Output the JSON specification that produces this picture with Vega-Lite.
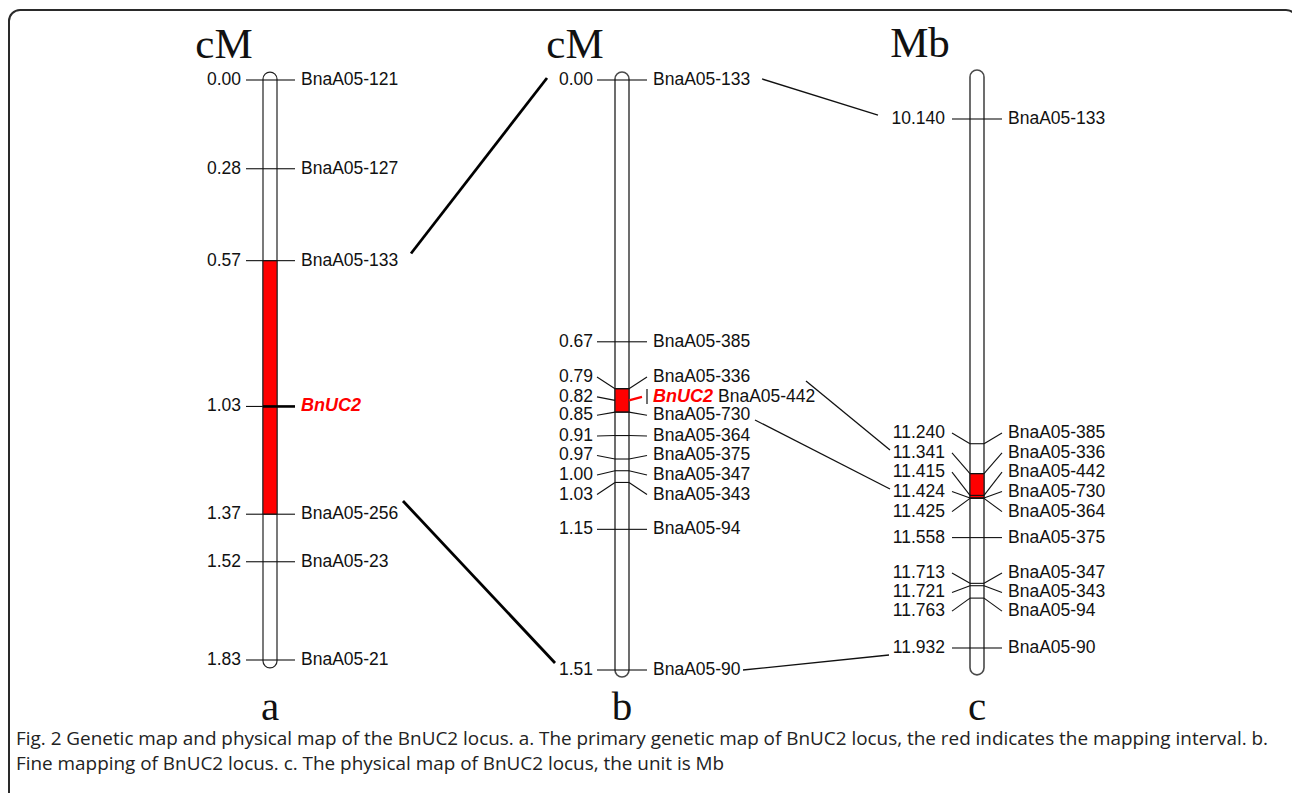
{
"$schema": "https://vega.github.io/schema/vega-lite/v6.json",
"width": 1288,
"height": 795,
"autosize": {"type": "none"},
"padding": {"left": 9, "top": 10, "right": -5, "bottom": -12},
"background": "white",
"config": {"view": {"stroke": "#2a2a2a", "strokeWidth": 2, "cornerRadius": 11, "fill": "white"}},
"title": {
  "text": ["Fig. 2 Genetic map and physical map of the BnUC2 locus. a. The primary genetic map of BnUC2 locus, the red indicates the mapping interval. b.", "Fine mapping of BnUC2 locus. c. The physical map of BnUC2 locus, the unit is Mb"],
  "orient": "bottom", "anchor": "start", "frame": "group", "offset": -75, "dx": 7,
  "font": "Open Sans", "fontSize": 18.9, "fontWeight": "normal", "color": "#222", "lineHeight": 25, "baseline": "top"
},
"datasets": {
  "chrom": [
    {"track": 1, "panel": "a", "unit": "cM", "top": -0.025, "bottom": 1.855},
    {"track": 2, "panel": "b", "unit": "cM", "top": -0.0205, "bottom": 1.528},
    {"track": 3, "panel": "c", "unit": "Mb", "top": 9.974, "bottom": 12.023}
  ],
  "regions": [
    {"track": 1, "start": 0.57, "end": 1.37},
    {"track": 2, "start": 0.79, "end": 0.85},
    {"track": 3, "start": 11.341, "end": 11.424}
  ],
  "markers": [
    {"track": 1, "value": 0.0, "num": "0.00", "name": "BnaA05-121", "label_at": 0.0},
    {"track": 1, "value": 0.28, "num": "0.28", "name": "BnaA05-127", "label_at": 0.28},
    {"track": 1, "value": 0.57, "num": "0.57", "name": "BnaA05-133", "label_at": 0.57},
    {"track": 1, "value": 1.03, "num": "1.03", "name": "", "gene": "BnUC2", "label_at": 1.03},
    {"track": 1, "value": 1.37, "num": "1.37", "name": "BnaA05-256", "label_at": 1.37},
    {"track": 1, "value": 1.52, "num": "1.52", "name": "BnaA05-23", "label_at": 1.52},
    {"track": 1, "value": 1.83, "num": "1.83", "name": "BnaA05-21", "label_at": 1.83},
    {"track": 2, "value": 0.0, "num": "0.00", "name": "BnaA05-133", "label_at": 0.0},
    {"track": 2, "value": 0.67, "num": "0.67", "name": "BnaA05-385", "label_at": 0.67},
    {"track": 2, "value": 0.79, "num": "0.79", "name": "BnaA05-336", "label_at": 0.76},
    {"track": 2, "value": 0.82, "num": "0.82", "name": "BnaA05-442", "gene": "BnUC2", "label_at": 0.811},
    {"track": 2, "value": 0.85, "num": "0.85", "name": "BnaA05-730", "label_at": 0.858},
    {"track": 2, "value": 0.91, "num": "0.91", "name": "BnaA05-364", "label_at": 0.911},
    {"track": 2, "value": 0.97, "num": "0.97", "name": "BnaA05-375", "label_at": 0.961},
    {"track": 2, "value": 1.0, "num": "1.00", "name": "BnaA05-347", "label_at": 1.011},
    {"track": 2, "value": 1.03, "num": "1.03", "name": "BnaA05-343", "label_at": 1.061},
    {"track": 2, "value": 1.15, "num": "1.15", "name": "BnaA05-94", "label_at": 1.15},
    {"track": 2, "value": 1.51, "num": "1.51", "name": "BnaA05-90", "label_at": 1.51},
    {"track": 3, "value": 10.14, "num": "10.140", "name": "BnaA05-133", "label_at": 10.14},
    {"track": 3, "value": 11.24, "num": "11.240", "name": "BnaA05-385", "label_at": 11.204},
    {"track": 3, "value": 11.341, "num": "11.341", "name": "BnaA05-336", "label_at": 11.271},
    {"track": 3, "value": 11.415, "num": "11.415", "name": "BnaA05-442", "label_at": 11.336},
    {"track": 3, "value": 11.424, "num": "11.424", "name": "BnaA05-730", "label_at": 11.402},
    {"track": 3, "value": 11.425, "num": "11.425", "name": "BnaA05-364", "label_at": 11.47},
    {"track": 3, "value": 11.558, "num": "11.558", "name": "BnaA05-375", "label_at": 11.558},
    {"track": 3, "value": 11.713, "num": "11.713", "name": "BnaA05-347", "label_at": 11.678},
    {"track": 3, "value": 11.721, "num": "11.721", "name": "BnaA05-343", "label_at": 11.744},
    {"track": 3, "value": 11.763, "num": "11.763", "name": "BnaA05-94", "label_at": 11.807},
    {"track": 3, "value": 11.932, "num": "11.932", "name": "BnaA05-90", "label_at": 11.932}
  ],
  "links": [
    {"pair": "ab", "from_x": 1.4006, "from_y": 0.5474, "to_x": 1.7869, "to_y": -0.0063},
    {"pair": "ab", "from_x": 1.3778, "from_y": 1.3283, "to_x": 1.8097, "to_y": 1.8394},
    {"pair": "bc", "from_x": 2.3944, "from_y": -0.0026, "to_x": 2.7211, "to_y": 10.1265},
    {"pair": "bc", "from_x": 2.5183, "from_y": 0.7704, "to_x": 2.7549, "to_y": 11.2613},
    {"pair": "bc", "from_x": 2.3746, "from_y": 0.8702, "to_x": 2.7549, "to_y": 11.3934},
    {"pair": "bc", "from_x": 2.3408, "from_y": 1.51, "to_x": 2.7521, "to_y": 11.9557}
  ]
},
"layer": [
  {
    "layer": [
      {"data": {"name": "chrom"}, "transform": [{"filter": "datum.track == 1"}],
       "mark": {"type": "rect", "fill": "white", "stroke": "#222", "strokeWidth": 1.2, "cornerRadius": 7, "xOffset": -7, "x2Offset": 7},
       "encoding": {
         "x": {"field": "track", "type": "quantitative", "scale": {"domain": [1, 2, 3], "range": [261, 613, 968], "nice": false, "zero": false}, "axis": null},
         "x2": {"field": "track"},
         "y": {"field": "top", "type": "quantitative", "scale": {"domain": [0, 1.83], "range": [70, 650], "nice": false, "zero": false}, "axis": null},
         "y2": {"field": "bottom"}}},
      {"data": {"name": "regions"}, "transform": [{"filter": "datum.track == 1"}],
       "mark": {"type": "rect", "fill": "#ff0000", "stroke": "#222", "strokeWidth": 1, "xOffset": -7, "x2Offset": 7},
       "encoding": {
         "x": {"field": "track", "type": "quantitative", "axis": null},
         "x2": {"field": "track"},
         "y": {"field": "start", "type": "quantitative", "axis": null},
         "y2": {"field": "end"}}},
      {"data": {"name": "markers"}, "transform": [{"filter": "datum.track == 1"}],
       "mark": {"type": "rule", "color": "#111", "strokeWidth": 1.1, "xOffset": -24, "x2Offset": -7},
       "encoding": {
         "x": {"field": "track", "type": "quantitative", "axis": null},
         "x2": {"field": "track"},
         "y": {"field": "label_at", "type": "quantitative", "axis": null},
         "y2": {"field": "value"}}},
      {"data": {"name": "markers"}, "transform": [{"filter": "datum.track == 1 && !datum.gene"}],
       "mark": {"type": "rule", "color": "#111", "strokeWidth": 1.1, "xOffset": -7, "x2Offset": 7},
       "encoding": {
         "x": {"field": "track", "type": "quantitative", "axis": null},
         "x2": {"field": "track"},
         "y": {"field": "value", "type": "quantitative", "axis": null}}},
      {"data": {"name": "markers"}, "transform": [{"filter": "datum.track == 1 && !datum.gene"}],
       "mark": {"type": "rule", "color": "#111", "strokeWidth": 1.1, "xOffset": 7, "x2Offset": 25},
       "encoding": {
         "x": {"field": "track", "type": "quantitative", "axis": null},
         "x2": {"field": "track"},
         "y": {"field": "value", "type": "quantitative", "axis": null},
         "y2": {"field": "label_at"}}},
      {"data": {"name": "markers"}, "transform": [{"filter": "datum.track == 1 && datum.gene"}],
       "mark": {"type": "rule", "color": "#000", "strokeWidth": 2.6, "xOffset": -7, "x2Offset": 25},
       "encoding": {
         "x": {"field": "track", "type": "quantitative", "axis": null},
         "x2": {"field": "track"},
         "y": {"field": "value", "type": "quantitative", "axis": null}}},
      {"data": {"name": "markers"}, "transform": [{"filter": "datum.track == 1"}],
       "mark": {"type": "text", "align": "right", "baseline": "middle", "dx": -29, "font": "Liberation Sans", "fontSize": 17.5, "color": "#111"},
       "encoding": {
         "x": {"field": "track", "type": "quantitative", "axis": null},
         "y": {"field": "label_at", "type": "quantitative", "axis": null},
         "text": {"field": "num"}}},
      {"data": {"name": "markers"}, "transform": [{"filter": "datum.track == 1"}],
       "mark": {"type": "text", "align": "left", "baseline": "middle", "dx": 31, "font": "Liberation Sans", "fontSize": 17.5, "color": "#111"},
       "encoding": {
         "x": {"field": "track", "type": "quantitative", "axis": null},
         "y": {"field": "label_at", "type": "quantitative", "axis": null},
         "text": {"field": "name"}}},
      {"data": {"name": "markers"}, "transform": [{"filter": "datum.track == 1 && datum.gene"}],
       "mark": {"type": "text", "align": "left", "baseline": "middle", "dx": 31, "font": "Liberation Sans", "fontSize": 18, "fontWeight": "bold", "fontStyle": "italic", "color": "#ff0000"},
       "encoding": {
         "x": {"field": "track", "type": "quantitative", "axis": null},
         "y": {"field": "label_at", "type": "quantitative", "axis": null},
         "text": {"field": "gene"}}},
      {"data": {"name": "chrom"}, "transform": [{"filter": "datum.track == 1"}],
       "mark": {"type": "text", "align": "center", "baseline": "alphabetic", "dx": -46, "dy": -14, "font": "Liberation Serif", "fontSize": 43, "color": "#111"},
       "encoding": {
         "x": {"field": "track", "type": "quantitative", "axis": null},
         "y": {"field": "top", "type": "quantitative", "axis": null},
         "text": {"field": "unit"}}},
      {"data": {"name": "chrom"}, "transform": [{"filter": "datum.track == 1"}],
       "mark": {"type": "text", "align": "center", "baseline": "alphabetic", "dy": 52, "font": "Liberation Serif", "fontSize": 41, "color": "#111"},
       "encoding": {
         "x": {"field": "track", "type": "quantitative", "axis": null},
         "y": {"field": "bottom", "type": "quantitative", "axis": null},
         "text": {"field": "panel"}}},
      {"data": {"name": "links"}, "transform": [{"filter": "datum.pair == 'ab'"}],
       "mark": {"type": "rule", "color": "#000", "strokeWidth": 2.8},
       "encoding": {
         "x": {"field": "from_x", "type": "quantitative", "axis": null},
         "x2": {"field": "to_x"},
         "y": {"field": "from_y", "type": "quantitative", "axis": null},
         "y2": {"field": "to_y"}}}
    ]
  },
  {
    "layer": [
      {"data": {"name": "chrom"}, "transform": [{"filter": "datum.track >= 2"}],
       "mark": {"type": "rect", "fill": "white", "stroke": "#4a4a4a", "strokeWidth": 1.6, "cornerRadius": 7, "xOffset": -7, "x2Offset": 7},
       "encoding": {
         "x": {"field": "track", "type": "quantitative", "axis": null},
         "x2": {"field": "track"},
         "y": {"field": "top", "type": "quantitative", "scale": {"domain": [0, 1.6, 9.9, 12], "range": [70, 695.17, 38.15, 658.07], "nice": false, "zero": false}, "axis": null},
         "y2": {"field": "bottom"}}},
      {"data": {"name": "regions"}, "transform": [{"filter": "datum.track >= 2"}],
       "mark": {"type": "rect", "fill": "#ff0000", "stroke": "#222", "strokeWidth": 1.2, "xOffset": -7, "x2Offset": 7},
       "encoding": {
         "x": {"field": "track", "type": "quantitative", "axis": null},
         "x2": {"field": "track"},
         "y": {"field": "start", "type": "quantitative", "axis": null},
         "y2": {"field": "end"}}},
      {"data": {"name": "markers"}, "transform": [{"filter": "datum.track >= 2"}],
       "mark": {"type": "rule", "color": "#111", "strokeWidth": 1.1, "xOffset": -25, "x2Offset": -7},
       "encoding": {
         "x": {"field": "track", "type": "quantitative", "axis": null},
         "x2": {"field": "track"},
         "y": {"field": "label_at", "type": "quantitative", "axis": null},
         "y2": {"field": "value"}}},
      {"data": {"name": "markers"}, "transform": [{"filter": "datum.track >= 2 && !datum.gene"}],
       "mark": {"type": "rule", "color": "#111", "strokeWidth": 1.1, "xOffset": -7, "x2Offset": 7},
       "encoding": {
         "x": {"field": "track", "type": "quantitative", "axis": null},
         "x2": {"field": "track"},
         "y": {"field": "value", "type": "quantitative", "axis": null}}},
      {"data": {"name": "markers"}, "transform": [{"filter": "datum.track >= 2 && !datum.gene"}],
       "mark": {"type": "rule", "color": "#111", "strokeWidth": 1.1, "xOffset": 7, "x2Offset": 25},
       "encoding": {
         "x": {"field": "track", "type": "quantitative", "axis": null},
         "x2": {"field": "track"},
         "y": {"field": "value", "type": "quantitative", "axis": null},
         "y2": {"field": "label_at"}}},
      {"data": {"name": "markers"}, "transform": [{"filter": "datum.track >= 2 && datum.gene"}],
       "mark": {"type": "rule", "color": "#ff0000", "strokeWidth": 2.2, "xOffset": 7, "x2Offset": 20},
       "encoding": {
         "x": {"field": "track", "type": "quantitative", "axis": null},
         "x2": {"field": "track"},
         "y": {"field": "value", "type": "quantitative", "axis": null},
         "y2": {"field": "label_at"}}},
      {"data": {"name": "markers"}, "transform": [{"filter": "datum.track >= 2 && datum.gene"}],
       "mark": {"type": "rule", "color": "#111", "strokeWidth": 1.2, "xOffset": 25, "yOffset": -8, "y2Offset": 7},
       "encoding": {
         "x": {"field": "track", "type": "quantitative", "axis": null},
         "y": {"field": "label_at", "type": "quantitative", "axis": null},
         "y2": {"field": "label_at"}}},
      {"data": {"name": "markers"}, "transform": [{"filter": "datum.track == 2"}],
       "mark": {"type": "text", "align": "right", "baseline": "middle", "dx": -29, "font": "Liberation Sans", "fontSize": 17.5, "color": "#111"},
       "encoding": {
         "x": {"field": "track", "type": "quantitative", "axis": null},
         "y": {"field": "label_at", "type": "quantitative", "axis": null},
         "text": {"field": "num"}}},
      {"data": {"name": "markers"}, "transform": [{"filter": "datum.track == 3"}],
       "mark": {"type": "text", "align": "right", "baseline": "middle", "dx": -32, "font": "Liberation Sans", "fontSize": 17.5, "color": "#111"},
       "encoding": {
         "x": {"field": "track", "type": "quantitative", "axis": null},
         "y": {"field": "label_at", "type": "quantitative", "axis": null},
         "text": {"field": "num"}}},
      {"data": {"name": "markers"}, "transform": [{"filter": "datum.track >= 2 && !datum.gene"}],
       "mark": {"type": "text", "align": "left", "baseline": "middle", "dx": 31, "font": "Liberation Sans", "fontSize": 17.5, "color": "#111"},
       "encoding": {
         "x": {"field": "track", "type": "quantitative", "axis": null},
         "y": {"field": "label_at", "type": "quantitative", "axis": null},
         "text": {"field": "name"}}},
      {"data": {"name": "markers"}, "transform": [{"filter": "datum.track >= 2 && datum.gene"}],
       "mark": {"type": "text", "align": "left", "baseline": "middle", "dx": 31, "font": "Liberation Sans", "fontSize": 18, "fontWeight": "bold", "fontStyle": "italic", "color": "#ff0000"},
       "encoding": {
         "x": {"field": "track", "type": "quantitative", "axis": null},
         "y": {"field": "label_at", "type": "quantitative", "axis": null},
         "text": {"field": "gene"}}},
      {"data": {"name": "markers"}, "transform": [{"filter": "datum.track >= 2 && datum.gene"}],
       "mark": {"type": "text", "align": "left", "baseline": "middle", "dx": 96, "font": "Liberation Sans", "fontSize": 17.5, "color": "#111"},
       "encoding": {
         "x": {"field": "track", "type": "quantitative", "axis": null},
         "y": {"field": "label_at", "type": "quantitative", "axis": null},
         "text": {"field": "name"}}},
      {"data": {"name": "chrom"}, "transform": [{"filter": "datum.track == 2"}],
       "mark": {"type": "text", "align": "center", "baseline": "alphabetic", "dx": -47, "dy": -14, "font": "Liberation Serif", "fontSize": 43, "color": "#111"},
       "encoding": {
         "x": {"field": "track", "type": "quantitative", "axis": null},
         "y": {"field": "top", "type": "quantitative", "axis": null},
         "text": {"field": "unit"}}},
      {"data": {"name": "chrom"}, "transform": [{"filter": "datum.track == 3"}],
       "mark": {"type": "text", "align": "center", "baseline": "alphabetic", "dx": -57, "dy": -13, "font": "Liberation Serif", "fontSize": 43, "color": "#111"},
       "encoding": {
         "x": {"field": "track", "type": "quantitative", "axis": null},
         "y": {"field": "top", "type": "quantitative", "axis": null},
         "text": {"field": "unit"}}},
      {"data": {"name": "chrom"}, "transform": [{"filter": "datum.track == 2"}],
       "mark": {"type": "text", "align": "center", "baseline": "alphabetic", "dy": 43, "font": "Liberation Serif", "fontSize": 41, "color": "#111"},
       "encoding": {
         "x": {"field": "track", "type": "quantitative", "axis": null},
         "y": {"field": "bottom", "type": "quantitative", "axis": null},
         "text": {"field": "panel"}}},
      {"data": {"name": "chrom"}, "transform": [{"filter": "datum.track == 3"}],
       "mark": {"type": "text", "align": "center", "baseline": "alphabetic", "dy": 45, "font": "Liberation Serif", "fontSize": 41, "color": "#111"},
       "encoding": {
         "x": {"field": "track", "type": "quantitative", "axis": null},
         "y": {"field": "bottom", "type": "quantitative", "axis": null},
         "text": {"field": "panel"}}},
      {"data": {"name": "links"}, "transform": [{"filter": "datum.pair == 'bc'"}],
       "mark": {"type": "rule", "color": "#111", "strokeWidth": 1.3},
       "encoding": {
         "x": {"field": "from_x", "type": "quantitative", "axis": null},
         "x2": {"field": "to_x"},
         "y": {"field": "from_y", "type": "quantitative", "axis": null},
         "y2": {"field": "to_y"}}}
    ]
  }
],
"resolve": {"scale": {"y": "independent"}}
}
